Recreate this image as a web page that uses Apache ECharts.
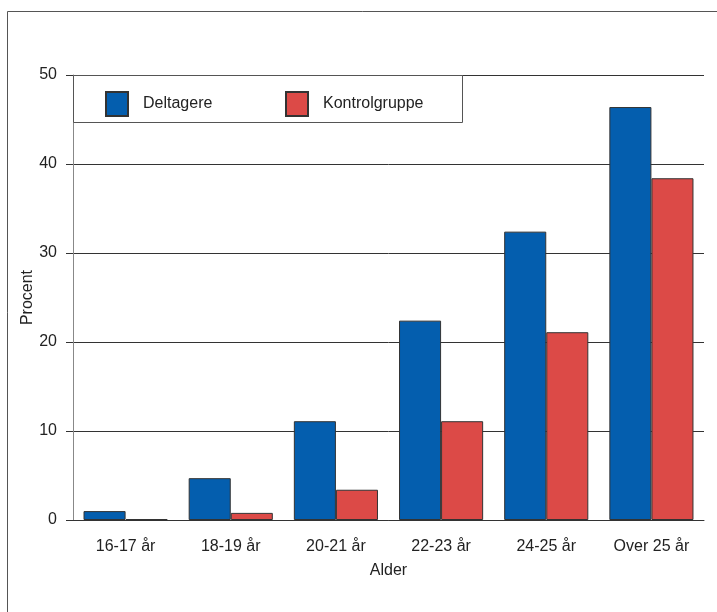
<!DOCTYPE html>
<html>
<head>
<meta charset="utf-8">
<script src="https://cdn.jsdelivr.net/npm/echarts@6/dist/echarts.min.js"></script>
<style>
html,body{margin:0;padding:0;background:#fff;}
#c{width:717px;height:612px;}
</style>
</head>
<body>
<div id="c"></div>
<script>
var categories = ['16-17 år', '18-19 år', '20-21 år', '22-23 år', '24-25 år', 'Over 25 år'];
var deltagere = [1.0, 4.7, 11.1, 22.4, 32.4, 46.4];
var kontrolgruppe = [0.1, 0.8, 3.4, 11.1, 21.1, 38.4];
var seriesNames = ['Deltagere', 'Kontrolgruppe'];
var yTicks = [0, 10, 20, 30, 40, 50];

var font = 'Liberation Sans, Arial, sans-serif';
var chart = echarts.init(document.getElementById('c'), null, {renderer: 'canvas'});
chart.setOption({
  animation: false,
  backgroundColor: '#fff',
  grid: {left: 73, top: 75, width: 631, height: 445},
  graphic: [
    {type: 'rect', shape: {x: 7.5, y: 11.5, width: 720, height: 610},
     style: {fill: 'none', stroke: '#555', lineWidth: 1}, z: 0},
    {type: 'rect', shape: {x: 73.5, y: 75.5, width: 389, height: 47},
     style: {fill: '#fff', stroke: '#555', lineWidth: 1}, z: 5}
  ],
  legend: [
    {data: [{name: seriesNames[0], icon: 'rect'}], left: 100, top: 86, itemWidth: 22, itemHeight: 24, z: 10,
     textStyle: {fontFamily: font, fontSize: 16, color: '#222', padding: [0, 0, 0, 10]}},
    {data: [{name: seriesNames[1], icon: 'rect'}], left: 280, top: 86, itemWidth: 22, itemHeight: 24, z: 10,
     textStyle: {fontFamily: font, fontSize: 16, color: '#222', padding: [0, 0, 0, 10]}}
  ],
  xAxis: {
    type: 'category', data: categories,
    name: 'Alder', nameLocation: 'middle', nameGap: 43, nameMoveOverlap: false,
    nameTextStyle: {fontFamily: font, fontSize: 16, color: '#222'},
    axisLine: {lineStyle: {color: '#333'}},
    axisTick: {alignWithLabel: true, length: 10, lineStyle: {color: '#333'}},
    axisLabel: {fontFamily: font, fontSize: 16, color: '#222', margin: 19}
  },
  yAxis: {
    type: 'value', min: yTicks[0], max: yTicks[yTicks.length - 1], interval: 10,
    name: 'Procent', nameLocation: 'middle', nameGap: 37, nameMoveOverlap: false,
    nameTextStyle: {fontFamily: font, fontSize: 16, color: '#222'},
    axisLine: {show: true, lineStyle: {color: '#888'}},
    axisTick: {show: true, length: 7, lineStyle: {color: '#333'}},
    axisLabel: {fontFamily: font, fontSize: 16, color: '#222', margin: 16},
    splitLine: {lineStyle: {color: '#333'}}
  },
  series: [
    {name: seriesNames[0], type: 'bar', data: deltagere, barGap: '0%', barCategoryGap: '20%',
     itemStyle: {color: '#045EAE', borderColor: '#333', borderWidth: 1}},
    {name: seriesNames[1], type: 'bar', data: kontrolgruppe,
     itemStyle: {color: '#DC4A47', borderColor: '#333', borderWidth: 1}}
  ]
});
</script>
</body>
</html>
